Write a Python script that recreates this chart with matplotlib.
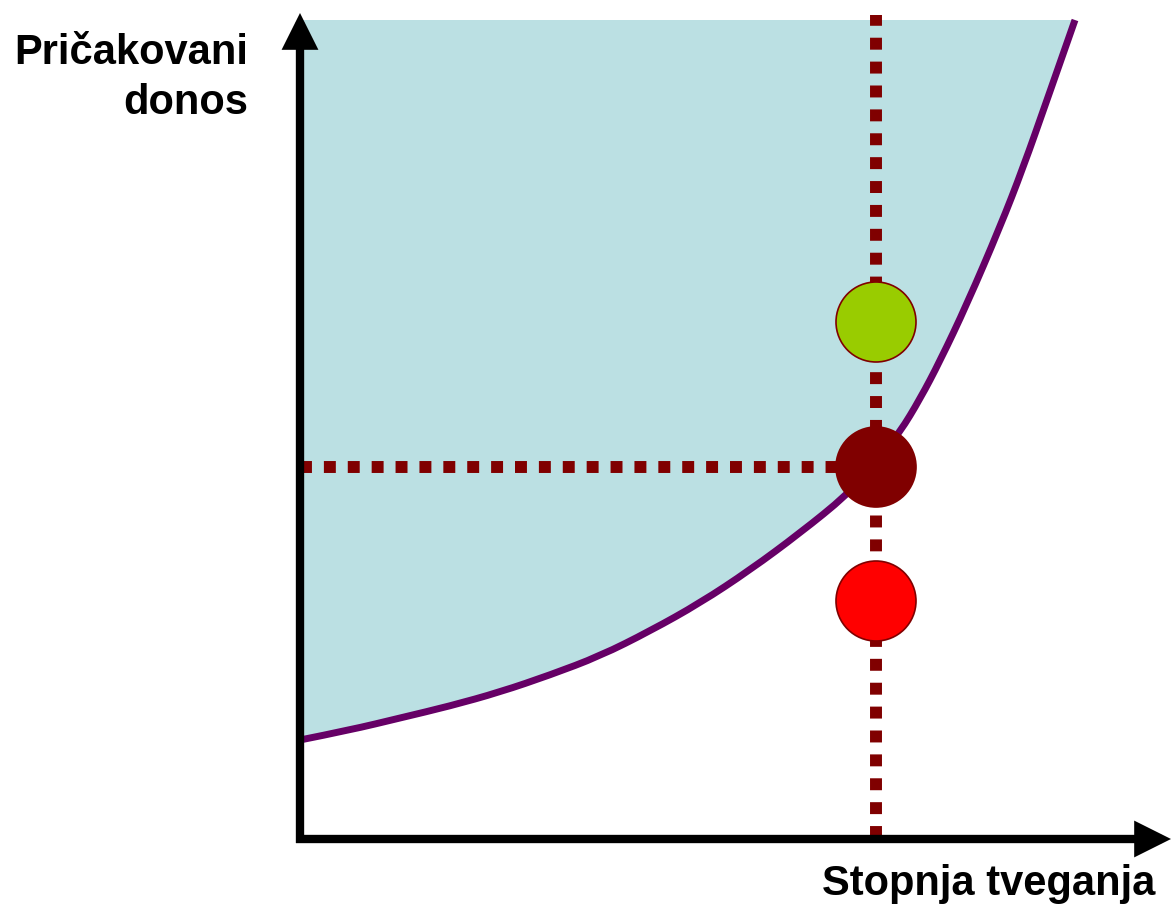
import numpy as np
import matplotlib.pyplot as plt
from matplotlib.path import Path
from matplotlib.patches import PathPatch

# efficient frontier (risk, expected return), arbitrary units
risk = [0, 50, 100, 150, 200, 250, 300, 350, 400, 450, 500, 547,
        576, 600, 620, 640, 667, 700, 723, 747, 775]
ret = [98, 108, 120, 132, 146, 163, 182, 207, 235, 268, 305, 343,
       375, 406, 439, 477, 534, 611, 670, 738, 818]
ret_top = 818

# chosen risk level and the three portfolios at that risk
risk_pick = 576
ret_pick = [516, 371, 237]
pick_colors = ['#99CC00', '#800000', '#FF0000']

ylabel_lines = ['Pričakovani', 'donos']
xlabel = 'Stopnja tveganja'

plt.rcParams['font.family'] = ['Liberation Sans', 'DejaVu Sans']


def smooth_path(xs, ys):
    # quadratic bezier through midpoints, control points at the read values
    pts = np.column_stack([xs, ys]).astype(float)
    verts = [pts[0]]
    codes = [Path.MOVETO]
    for i in range(1, len(pts) - 2):
        verts += [pts[i], (pts[i] + pts[i + 1]) / 2]
        codes += [Path.CURVE3, Path.CURVE3]
    verts += [pts[-2], pts[-1]]
    codes += [Path.CURVE3, Path.CURVE3]
    return verts, codes


fig = plt.figure(figsize=(11.74, 9.06), dpi=100)
ax = fig.add_axes([0, 0, 1, 1])
ax.set_xlim(-300, 874)
ax.set_ylim(-68, 838)
ax.axis('off')

verts, codes = smooth_path(risk, ret)

# shaded region above the frontier
fill_verts = verts + [(risk[0], ret_top), (risk[0], ret[0])]
fill_codes = codes + [Path.LINETO, Path.CLOSEPOLY]
ax.add_patch(PathPatch(Path(fill_verts, fill_codes), facecolor='#BBE0E3',
                       edgecolor='none', zorder=1))
ax.add_patch(PathPatch(Path(verts, codes), facecolor='none',
                       edgecolor='#660066', lw=5, capstyle='butt', zorder=3))

# dotted guides
ax.plot([risk_pick, risk_pick], [0, 823], color='#800000', lw=8.6,
        linestyle=(0, (1, 1)), dash_capstyle='butt', zorder=4)
ax.plot([0, risk_pick], [ret_pick[1], ret_pick[1]], color='#800000', lw=8.6,
        linestyle=(0, (1, 1)), dash_capstyle='butt', zorder=4)

ax.scatter([risk_pick] * 3, ret_pick, s=3318, c=pick_colors,
           edgecolors='#800000', linewidths=1.2, zorder=5)

# axes with arrows
arrow = dict(arrowstyle='-|>,head_length=0.6,head_width=0.3', lw=6,
             color='black', shrinkA=0, shrinkB=0, mutation_scale=28,
             capstyle='butt', joinstyle='miter')
ax.annotate('', xy=(0, 825), xytext=(0, -5), arrowprops=arrow, zorder=6)
ax.annotate('', xy=(871, -1), xytext=(-4, -1), arrowprops=arrow, zorder=6)

ax.text(-52, 774, ylabel_lines[0], ha='right', va='baseline',
        fontsize=30, fontweight='bold')
ax.text(-52, 724, ylabel_lines[1], ha='right', va='baseline',
        fontsize=30, fontweight='bold')
ax.text(855, -57, xlabel, ha='right', va='baseline',
        fontsize=30, fontweight='bold')

fig.savefig('out.png', dpi=100)
